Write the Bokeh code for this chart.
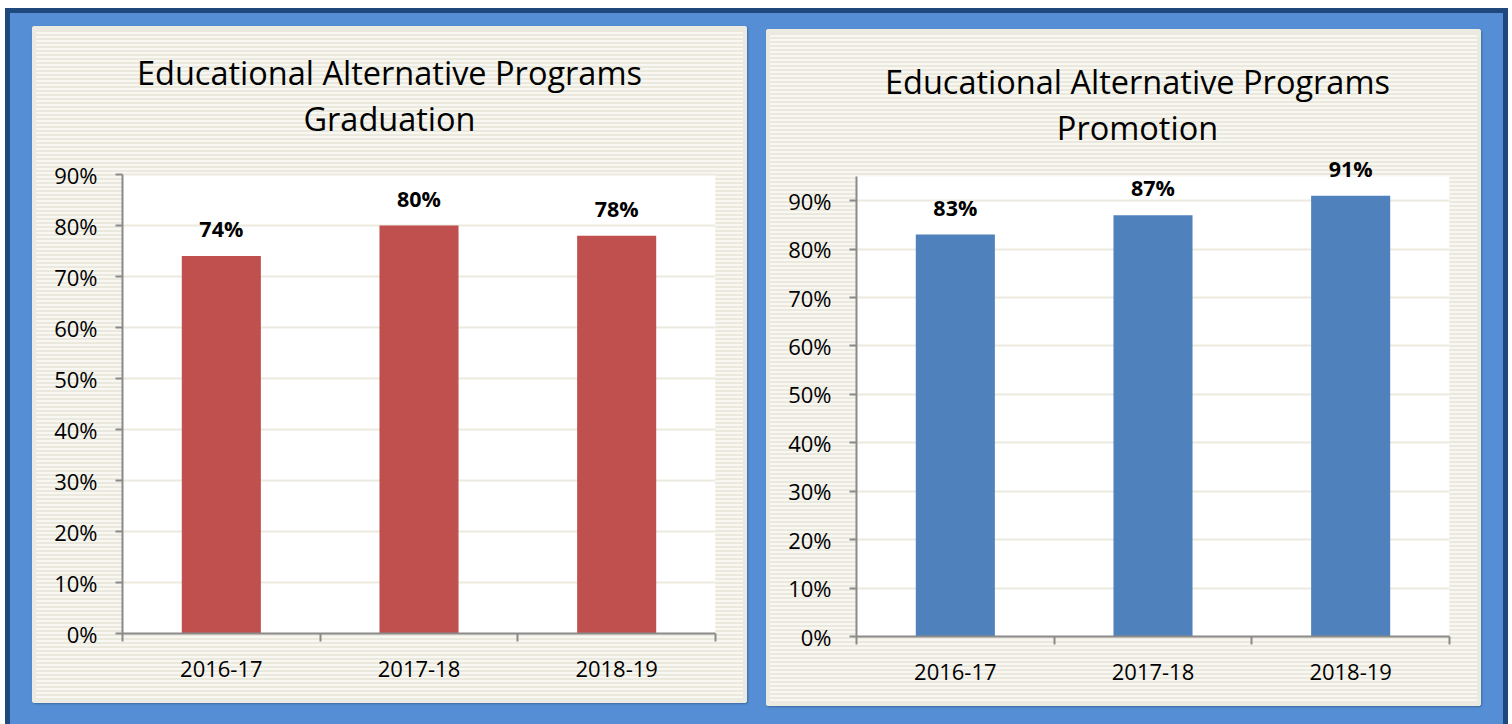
from bokeh.plotting import figure
from bokeh.layouts import row
from bokeh.models import (Range1d, FixedTicker, NumeralTickFormatter, ColumnDataSource,
                          LabelSet, Label, BoxAnnotation)
from bokeh.core.properties import value
from bokeh.embed import file_html
from bokeh.resources import INLINE

# ---- data ----
years = ["2016-17", "2017-18", "2018-19"]
graduation = [0.74, 0.80, 0.78]
promotion = [0.83, 0.87, 0.91]
y_ticks = [0.0, 0.1, 0.2, 0.3, 0.4, 0.5, 0.6, 0.7, 0.8, 0.9]
axis_max_grad = 0.9
axis_max_prom = 0.95
title_grad = "Educational Alternative Programs\nGraduation"
title_prom = "Educational Alternative Programs\nPromotion"

FONT = "Open Sans"
AXIS_GRAY = "#8a8a8a"
GRID = "#ece9de"
PANEL_STYLES = {
    "background": "repeating-linear-gradient(180deg, #ebe9de 0px, #ebe9de 2px, #f8f7f2 2px, #f8f7f2 4px)",
    "box-shadow": "inset 0 0 0 4px #ecebe1, 1px 1px 2px rgba(0,0,0,0.25)",
    "border-radius": "3px",
}

FIG_W, FIG_H = 715, 677
BORDER_L, BORDER_R, BORDER_B = 90, 32, 70


def make_chart(title, values, color, axis_max, white_h, title_x, title_y):
    frame_h = FIG_H - BORDER_B
    y_end = axis_max * frame_h / white_h
    xs = [i + 0.5 for i in range(len(years))]
    src = ColumnDataSource(dict(x=xs, top=values, year=years,
                                label=[f"{round(v * 100)}%" for v in values]))
    p = figure(x_range=Range1d(0, len(years)), y_range=Range1d(0, y_end),
               width=FIG_W, height=FIG_H, sizing_mode="fixed",
               min_border_left=BORDER_L, min_border_right=BORDER_R,
               min_border_top=0, min_border_bottom=BORDER_B,
               output_backend="svg", toolbar_location=None, tools="")
    p.title = None
    p.border_fill_color = None
    p.background_fill_color = None
    p.outline_line_color = None
    p.styles = PANEL_STYLES

    plot_area = BoxAnnotation(bottom=0, top=axis_max, fill_color="white", fill_alpha=1,
                              line_color=None, level="image")
    p.add_layout(plot_area)

    p.vbar(x="x", top="top", width=0.4, source=src, fill_color=color, line_color=None)

    labels = LabelSet(x="x", y="top", text="label", source=src, y_offset=19,
                      text_align="center", text_baseline="alphabetic",
                      text_font=value(FONT), text_font_size=value("21.5px"),
                      text_font_style=value("bold"), text_color=value("black"))
    p.add_layout(labels)

    t = Label(x=title_x, y=title_y, x_units="screen", y_units="screen", text=title,
              text_align="center", text_baseline="middle", text_font=FONT,
              text_font_size="32.5px", text_color="black", text_line_height=1.03)
    p.add_layout(t)

    # y axis
    yax = p.yaxis[0]
    yax.bounds = (0, axis_max)
    yax.ticker = FixedTicker(ticks=y_ticks)
    yax.formatter = NumeralTickFormatter(format="0%")
    yax.major_tick_out = 7
    yax.major_tick_in = 0
    yax.minor_tick_out = 0
    yax.minor_tick_in = 0
    yax.axis_line_color = AXIS_GRAY
    yax.axis_line_width = 2
    yax.major_tick_line_color = AXIS_GRAY
    yax.major_tick_line_width = 2
    yax.major_label_standoff = 18
    yax.major_label_text_font = FONT
    yax.major_label_text_font_size = "22px"
    yax.major_label_text_color = "black"

    # x axis: labels at category centres, tick marks at category boundaries
    xax = p.xaxis[0]
    xax.ticker = FixedTicker(ticks=xs, minor_ticks=list(range(len(years) + 1)))
    xax.major_label_overrides = {x: y for x, y in zip(xs, years)}
    xax.major_tick_out = 0
    xax.major_tick_in = 0
    xax.minor_tick_out = 8
    xax.minor_tick_in = 0
    xax.minor_tick_line_color = AXIS_GRAY
    xax.minor_tick_line_width = 2
    xax.axis_line_color = AXIS_GRAY
    xax.axis_line_width = 2
    xax.major_label_standoff = 19
    xax.major_label_text_font = FONT
    xax.major_label_text_font_size = "22px"
    xax.major_label_text_color = "black"

    p.xgrid.visible = False
    p.ygrid.ticker = FixedTicker(ticks=y_ticks)
    p.ygrid.grid_line_color = GRID
    p.ygrid.grid_line_width = 2
    return p


p1 = make_chart(title_grad, graduation, "#c0504d", axis_max_grad, 459, 267, 538)
p2 = make_chart(title_prom, promotion, "#4f81bd", axis_max_prom, 460, 281, 532)
p1.margin = (18, 0, 0, 27)
p2.margin = (21, 0, 0, 19)

layout = row(p1, p2)
layout.width = 1503
layout.height = 716
layout.sizing_mode = "fixed"
layout.styles = {
    "background-color": "#558ed5",
    "box-shadow": "inset 5px 5px 0 0 #1f497d, inset -5px 0 0 0 #1f497d",
    "margin-left": "5px",
    "margin-top": "8px",
}

open("out.html", "w").write(file_html(layout, INLINE))
